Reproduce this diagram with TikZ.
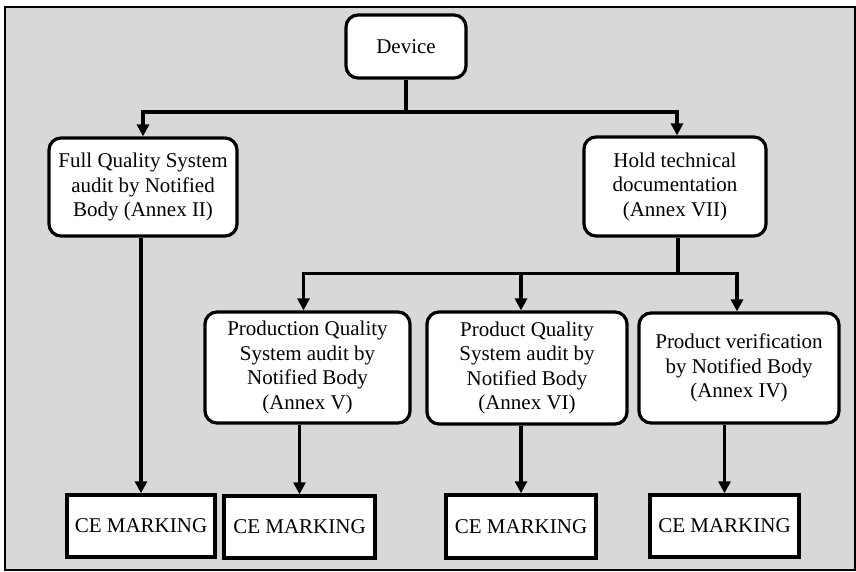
\documentclass[tikz,border=0pt]{standalone}
\usepackage{fontspec}
\setmainfont{Liberation Serif}
\usetikzlibrary{arrows.meta}
\definecolor{bgray}{RGB}{216,216,216}
\begin{document}
\begin{tikzpicture}[x=1pt,y=-1pt,
  rbox/.style={draw, line width=3.2pt, rounded corners=12pt, fill=white, align=center, inner sep=0pt, font=\fontsize{21}{24.5}\selectfont},
  cebox/.style={draw, line width=3.4pt, fill=white, align=center, inner sep=0pt, minimum width=148pt, minimum height=62pt, font=\fontsize{21}{24.5}\selectfont},
  conn/.style={line width=3.2pt},
  arr/.style={line width=3.2pt, -{Triangle[length=12pt,width=12pt]}}]
\useasboundingbox (0,0) rectangle (856,572);
\fill[white] (0,0) rectangle (856,572);
\draw[line width=2.2pt, fill=bgray] (5,7) rectangle (855,570);

\node[rbox, minimum width=120pt, minimum height=63pt] (dev) at (406,46.5) {Device};
\node[rbox, minimum width=188pt, minimum height=98pt] (full) at (143,187) {Full Quality System\\audit by Notified\\Body (Annex II)};
\node[rbox, minimum width=182pt, minimum height=99pt] (hold) at (675,186.5) {Hold technical\\documentation\\(Annex VII)};
\node[rbox, minimum width=205pt, minimum height=111pt] (prod) at (307.5,367.5) {Production Quality\\System audit by\\Notified Body\\(Annex V)};
\node[rbox, minimum width=200pt, minimum height=112pt] (pq) at (527,368) {Product Quality\\System audit by\\Notified Body\\(Annex VI)};
\node[rbox, minimum width=200pt, minimum height=110pt] (ver) at (739,368) {Product verification\\by Notified Body\\(Annex IV)};

\node[cebox] (ce1) at (141,526) {CE MARKING};
\node[cebox, minimum width=151pt, minimum height=62pt] (ce2) at (299.5,527) {CE MARKING};
\node[cebox, minimum width=150pt, minimum height=63pt] (ce3) at (521,526.5) {CE MARKING};
\node[cebox, minimum width=149pt] (ce4) at (724.5,526) {CE MARKING};

\coordinate (j1) at (406,112);
\coordinate (j2) at (678,273.5);

\draw[conn] (dev.south) -- (j1);
\draw[arr] (j1) -| (full.north);
\draw[arr] (j1) -| ([xshift=2pt]hold.north);

\draw[conn] (j2 |- hold.south) -- (j2);
\draw[arr] (j2) -| ([xshift=-4pt]prod.north);
\draw[arr] (j2) -| (ce3.north |- pq.north);
\draw[arr] (j2) -| ([xshift=-2pt]ver.north);

\draw[arr] (full.south -| ce1.north) -- (ce1.north);
\draw[arr] (prod.south -| ce2.north) -- (ce2.north);
\draw[arr] (pq.south -| ce3.north) -- (ce3.north);
\draw[arr] (ver.south -| ce4.north) -- (ce4.north);
\end{tikzpicture}
\end{document}
